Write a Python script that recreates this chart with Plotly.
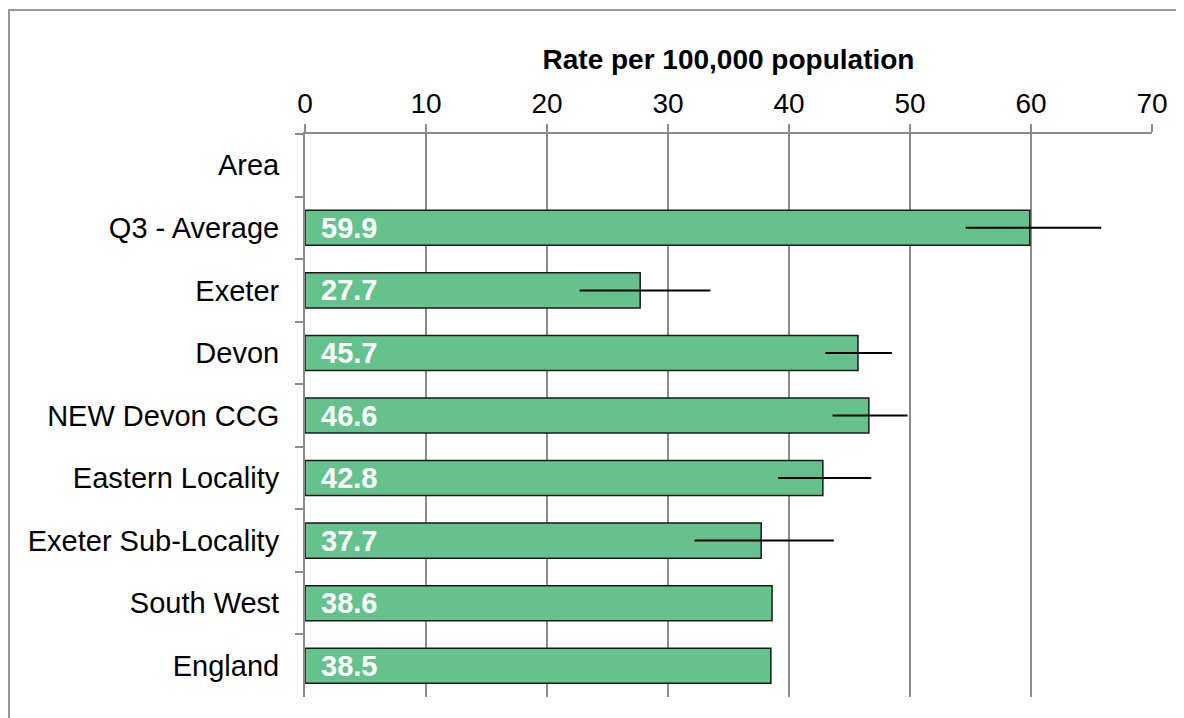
import plotly.graph_objects as go

# areas, top to bottom
areas = ["Area", "Q3 - Average", "Exeter", "Devon", "NEW Devon CCG",
         "Eastern Locality", "Exeter Sub-Locality", "South West", "England"]
rates = [None, 59.9, 27.7, 45.7, 46.6, 42.8, 37.7, 38.6, 38.5]
lower_ci = [None, 54.6, 22.7, 43.0, 43.6, 39.1, 32.2, None, None]
upper_ci = [None, 65.8, 33.5, 48.5, 49.8, 46.8, 43.7, None, None]

err_plus = [(u - r) if u is not None else 0 for u, r in zip(upper_ci, rates)]
err_minus = [(r - l) if l is not None else 0 for l, r in zip(lower_ci, rates)]

FONT = "Liberation Sans, Arial, sans-serif"
GRID = "#8c8c8c"

fig = go.Figure()
fig.add_trace(go.Bar(
    y=areas, x=rates, orientation="h", width=0.56,
    marker=dict(color="#66c28d", line=dict(color="#1a1a1a", width=1.5)),
    error_x=dict(type="data", symmetric=False, array=err_plus,
                 arrayminus=err_minus, color="black", thickness=2, width=0),
    hoverinfo="x+y",
))

# white value labels at the base of each bar
for a, r in zip(areas, rates):
    if r is None:
        continue
    fig.add_annotation(x=0, y=a, text=f"<b>{r:.1f}</b>", showarrow=False,
                       xanchor="left", xshift=14,
                       font=dict(color="white", size=29, family=FONT))

fig.update_xaxes(
    side="top", range=[0, 70], dtick=10, showgrid=True, gridcolor=GRID,
    gridwidth=2, showline=True, linecolor=GRID, linewidth=2,
    ticks="outside", ticklen=8, tickwidth=2, tickcolor=GRID, zeroline=False,
    tickfont=dict(size=28, color="black", family=FONT),
    title=dict(text="<b>Rate per 100,000 population</b>", standoff=10,
               font=dict(size=28, color="black", family=FONT)),
)
fig.update_yaxes(
    autorange="reversed", showline=True, linecolor=GRID, linewidth=2,
    ticks="outside", ticklen=8, tickwidth=2, tickcolor=GRID,
    tickson="boundaries", showgrid=False, ticklabelstandoff=18,
    tickfont=dict(size=29, color="black", family=FONT),
)

# outer chart frame, partly off the page like the original crop
fig.add_shape(type="rect", xref="paper", yref="paper",
              x0=-0.3495, x1=1.2, y0=-0.2, y1=1.2202,
              line=dict(color="#999999", width=2), layer="below")

fig.update_layout(
    width=1184, height=718,
    margin=dict(l=297, r=40, t=126, b=29),
    paper_bgcolor="white", plot_bgcolor="white",
    showlegend=False, bargap=0.44,
    font=dict(family=FONT, color="black"),
)

fig.write_html("out.html")
